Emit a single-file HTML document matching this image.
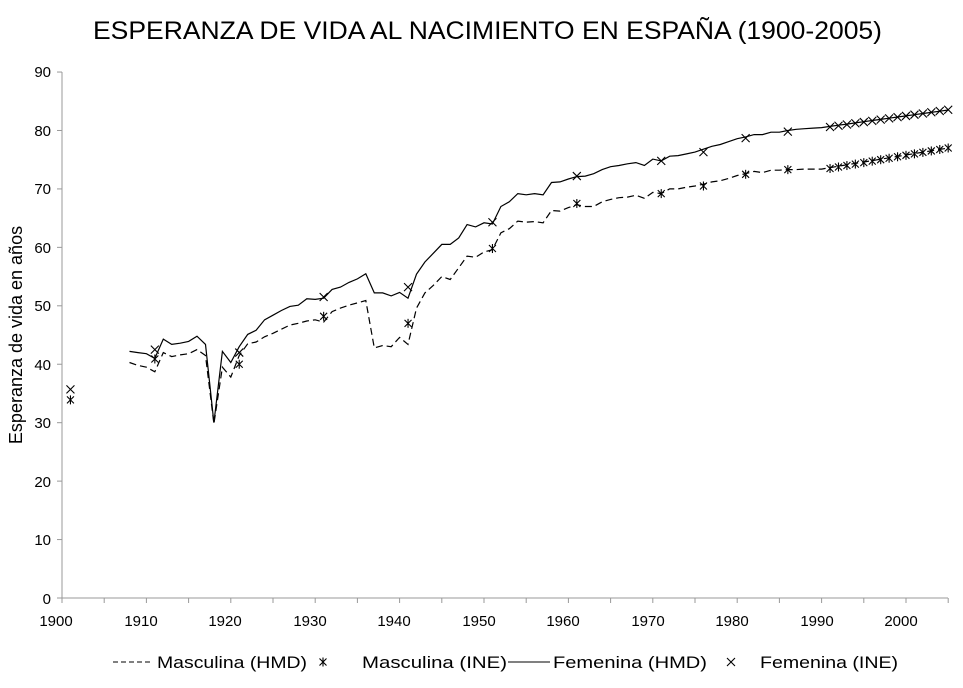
<!DOCTYPE html>
<html><head><meta charset="utf-8"><style>
body{margin:0;background:#fff;}
svg{display:block;font-family:"Liberation Sans",Arial,sans-serif;}
</style></head><body>
<svg id="c" width="963" height="688" xmlns="http://www.w3.org/2000/svg">
<text x="93" y="39" font-size="25" textLength="789" lengthAdjust="spacingAndGlyphs">ESPERANZA DE VIDA AL NACIMIENTO EN ESPAÑA (1900-2005)</text>
<text transform="translate(22,335) rotate(-90)" font-size="18" text-anchor="middle">Esperanza de vida en años</text>
<g font-size="15" text-anchor="end">
<text x="51" y="604">0</text><text x="51" y="545">10</text><text x="51" y="487">20</text>
<text x="51" y="428">30</text><text x="51" y="370">40</text><text x="51" y="311">50</text>
<text x="51" y="253">60</text><text x="51" y="194">70</text><text x="51" y="136">80</text><text x="51" y="77">90</text>
</g>
<g font-size="15" text-anchor="middle">
<text x="56" y="626">1900</text><text x="141" y="626">1910</text><text x="225" y="626">1920</text>
<text x="310" y="626">1930</text><text x="394" y="626">1940</text><text x="479" y="626">1950</text>
<text x="563" y="626">1960</text><text x="648" y="626">1970</text><text x="732" y="626">1980</text>
<text x="817" y="626">1990</text><text x="901" y="626">2000</text>
</g>
<g id="axes" stroke="#999" stroke-width="1" fill="none"></g>
<g id="series"></g>
<g font-size="17">
<line x1="113" y1="662" x2="150" y2="662" stroke="#000" stroke-dasharray="5,3"/>
<text x="157" y="668" textLength="150" lengthAdjust="spacingAndGlyphs">Masculina (HMD)</text>
<text x="362" y="668" textLength="145" lengthAdjust="spacingAndGlyphs">Masculina (INE)</text>
<line x1="508" y1="662" x2="550" y2="662" stroke="#000"/>
<text x="553" y="668" textLength="154" lengthAdjust="spacingAndGlyphs">Femenina (HMD)</text>
<text x="760" y="668" textLength="138" lengthAdjust="spacingAndGlyphs">Femenina (INE)</text>
</g>
</svg>
<script>
var X=function(y){return 62+(y-1900)*8.44;},Y=function(v){return 598-v*5.844;};
var ns="http://www.w3.org/2000/svg";
function el(p,t,a){var e=document.createElementNS(ns,t);for(var k in a)e.setAttribute(k,a[k]);p.appendChild(e);return e;}
var ax=document.getElementById('axes');
el(ax,'line',{x1:62,y1:72,x2:62,y2:598});
el(ax,'line',{x1:62,y1:598,x2:948,y2:598});
for(var v=0;v<=90;v+=10)el(ax,'line',{x1:57,y1:Y(v),x2:62,y2:Y(v)});
for(var y=1900;y<=2005;y+=5)el(ax,'line',{x1:X(y),y1:598,x2:X(y),y2:603});
var F=[42.2,42.0,41.8,41.0,44.3,43.4,43.6,43.9,44.8,43.4,30.0,42.2,40.3,43.0,45.1,45.8,47.6,48.4,49.2,49.9,50.1,51.2,51.1,51.3,52.8,53.2,54.0,54.6,55.5,52.2,52.2,51.7,52.3,51.3,55.4,57.5,59.0,60.5,60.5,61.6,63.9,63.5,64.2,64.0,67.0,67.8,69.2,69.0,69.2,69.0,71.1,71.2,71.7,72.1,72.2,72.6,73.3,73.8,74.0,74.3,74.5,74.0,75.1,74.8,75.6,75.7,76.0,76.3,76.8,77.3,77.6,78.1,78.6,78.9,79.3,79.3,79.7,79.7,80.0,80.2,80.3,80.4,80.5];
var M=[40.3,39.8,39.5,38.7,42.0,41.3,41.6,41.8,42.5,41.5,29.8,39.5,37.8,41.5,43.5,43.8,44.7,45.3,46.0,46.7,47.0,47.4,47.6,47.2,49.0,49.6,50.1,50.5,50.9,42.8,43.2,43.0,44.6,43.4,49.6,52.2,53.5,55.0,54.5,56.5,58.5,58.3,59.2,59.6,62.5,63.2,64.5,64.3,64.4,64.2,66.3,66.2,66.8,67.3,67.0,67.0,67.8,68.2,68.5,68.6,68.9,68.4,69.4,69.2,70.0,70.0,70.3,70.5,70.8,71.2,71.4,71.8,72.3,72.6,73.0,72.8,73.2,73.2,73.3,73.3,73.4,73.4,73.4];
for(var i=1;i<=15;i++){F.push(80.5+i*0.2);M.push(73.4+i*0.24);}
var sg=document.getElementById('series');
function path(d,dash){var s='';d.forEach(function(v,i){s+=(i?'L':'M')+X(1908+i).toFixed(1)+','+Y(v).toFixed(1);});
var a={d:s,fill:'none',stroke:'#000','stroke-width':1.2};if(dash)a['stroke-dasharray']='7,4';el(sg,'path',a);}
path(M,true);path(F,false);
var FI=[[1901,35.7],[1911,42.5],[1921,42.0],[1931,51.5],[1941,53.2],[1951,64.3],[1961,72.2],[1971,74.8],[1976,76.3],[1981,78.7],[1986,79.8]];
var MI=[[1901,33.9],[1911,40.9],[1921,40.0],[1931,48.2],[1941,47.0],[1951,59.8],[1961,67.5],[1971,69.2],[1976,70.5],[1981,72.5],[1986,73.3]];
for(var y=1991;y<=2005;y++){FI.push([y,80.6+(y-1991)*0.21]);MI.push([y,73.5+(y-1991)*0.25]);}
function cross(x,y,r){el(sg,'path',{d:'M'+(x-r)+','+(y-r)+'L'+(x+r)+','+(y+r)+'M'+(x-r)+','+(y+r)+'L'+(x+r)+','+(y-r),stroke:'#000','stroke-width':1.1,fill:'none'});}
function star(x,y){cross(x,y,3.5);el(sg,'line',{x1:x,y1:y-4.5,x2:x,y2:y+4.5,stroke:'#000','stroke-width':1.1});}
FI.forEach(function(p){cross(X(p[0]),Y(p[1]),4);});
MI.forEach(function(p){star(X(p[0]),Y(p[1]));});
star(323,662);cross(731,662,4);
</script>
</body></html>
